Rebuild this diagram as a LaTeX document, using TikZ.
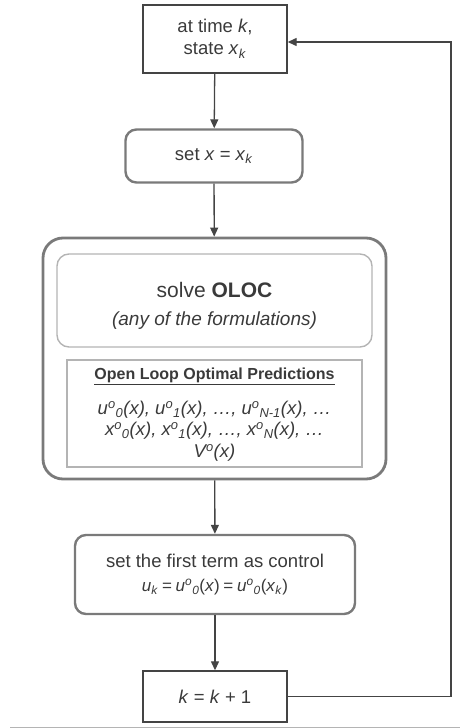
\documentclass[tikz,border=0pt]{standalone}
\usepackage{fontspec}
\setmainfont{Liberation Sans}
\usetikzlibrary{arrows.meta}
\definecolor{ink}{HTML}{3A3A3A}
\definecolor{edge}{HTML}{444444}
\definecolor{midgray}{HTML}{7A7A7A}
\definecolor{lightgray}{HTML}{B4B4B4}
\newcommand{\sym}[1]{\textit{#1}}
\newcommand{\supo}{\textsuperscript{\textit{o}}}
\newcommand{\subi}[1]{\textsubscript{\textit{#1}}}
\newcommand{\spaceeq}{\hspace{0.22em}=\hspace{0.22em}}
\tikzset{
  plainbox/.style={draw=edge, line width=1.4pt, text=ink, align=center, inner sep=0pt},
  roundbox/.style={draw=midgray, line width=2.4pt, rounded corners=11pt, text=ink, align=center, inner sep=0pt},
  outerbox/.style={draw=midgray, line width=2.8pt, rounded corners=20pt, inner sep=0pt},
  innerround/.style={draw=lightgray, line width=1.4pt, rounded corners=12pt, inner sep=0pt},
  innerrect/.style={draw=lightgray, line width=1.2pt, inner sep=0pt},
  label/.style={text=ink, align=center, inner sep=0pt},
  flow/.style={draw=edge, line width=1.3pt, -{Triangle[length=9pt,width=8pt]}},
}
\begin{document}
\begin{tikzpicture}[x=1pt, y=-1pt, font=\fontsize{18.5}{22}\selectfont]
\useasboundingbox (0,0) rectangle (460,728);

% process steps
\node[plainbox, minimum width=144pt, minimum height=68pt] (start) at (215,39)
  {at time \sym{k},\\ state \sym{x}\subi{k}};
\node[roundbox, minimum width=177pt, minimum height=53pt] (setx) at (214,156)
  {set \sym{x} = \sym{x}\subi{k}};
\node[outerbox, minimum width=343pt, minimum height=241pt] (solve) at (214.5,358.5) {};
\node[innerround, minimum width=315pt, minimum height=93pt] (oloc) at (214.5,300.5) {};
\node[innerrect, minimum width=295pt, minimum height=107pt] (pred) at (214.5,413.5) {};
\node[roundbox, minimum width=280pt, minimum height=79pt] (control) at (215,574.5)
  {set the first term as control\\[2pt]
   {\fontsize{17}{20}\selectfont\sym{u}\subi{k}\spaceeq\sym{u}\supo\subi{0}(\sym{x})\spaceeq\sym{u}\supo\subi{0}(\sym{x}\subi{k})}};
\node[plainbox, minimum width=144pt, minimum height=51pt] (incr) at (215,696.5)
  {\sym{k} = \sym{k} + 1};

% texts inside the solver block
\node[label, font=\fontsize{21}{24}\selectfont] (olocA) at (214.5,290) {solve \textbf{OLOC}};
\node[label, font=\fontsize{19}{22}\selectfont\itshape] (olocB) at (214.5,321) {(any of the formulations)};
\node[label, font=\fontsize{16}{19}\selectfont\bfseries] (predT) at (214.5,376) {\underline{Open Loop Optimal Predictions}};
\node[label, font=\fontsize{18.5}{21.5}\selectfont\itshape] (predL) at (214.5,431)
  {u\supo\subi{0}(x), u\supo\subi{1}(x), \dots, u\supo\subi{N-1}(x), \dots\\
   x\supo\subi{0}(x), x\supo\subi{1}(x), \dots, x\supo\subi{N}(x), \dots\\
   V\supo(x)};

% connectors
\coordinate (back) at (451,696.5);
\draw[flow] (start) -- (setx);
\draw[flow] (setx) -- (solve);
\draw[flow] (solve) -- (control);
\draw[flow] (control) -- (incr);
\draw[flow] (incr.east) -- (back) |- ([yshift=-3pt]start.east);

% page rule
\coordinate (ruleL) at (10,727);
\coordinate (ruleR) at (460,727);
\draw[lightgray, line width=1pt] (ruleL) -- (ruleR);
\end{tikzpicture}
\end{document}
